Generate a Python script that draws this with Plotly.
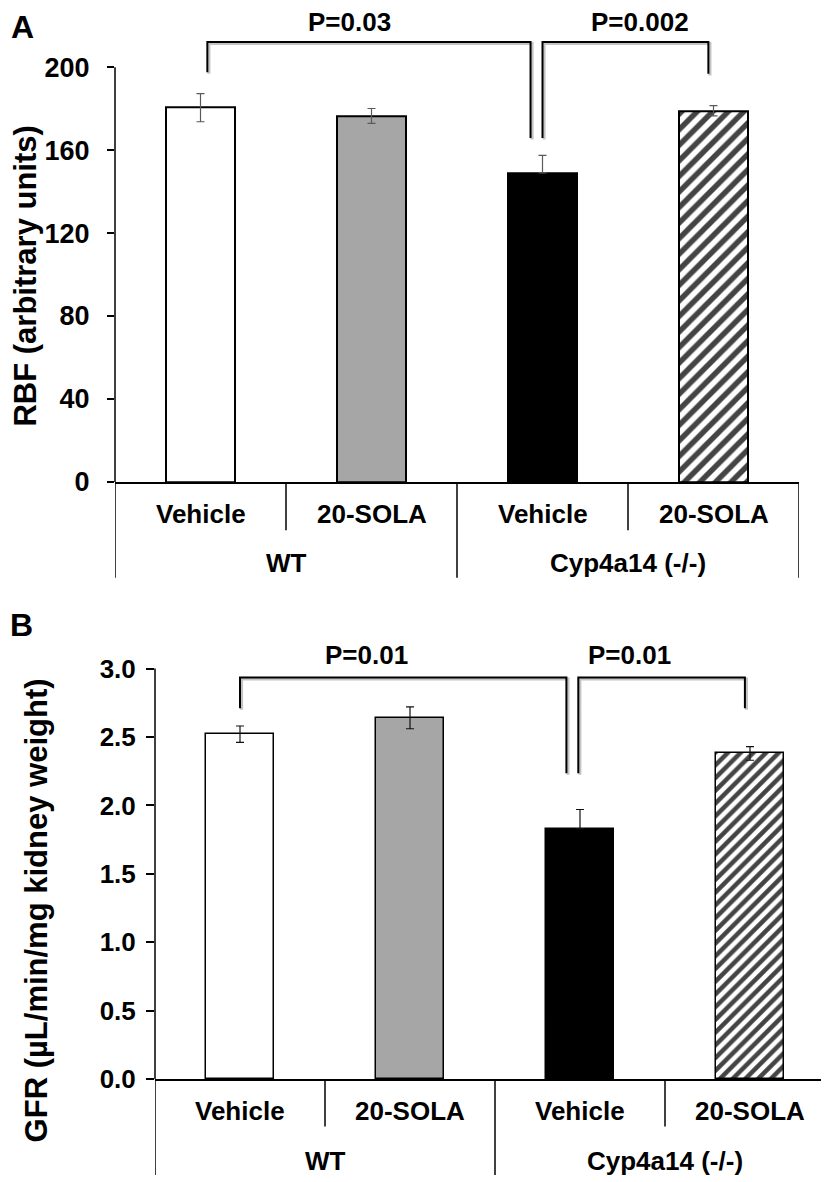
import plotly.graph_objects as go

# ---------------- data ----------------
treatments = ["Vehicle", "20-SOLA", "Vehicle", "20-SOLA"]
groups = ["WT", "Cyp4a14 (-/-)"]
group_of = [0, 0, 1, 1]

rbf_mean = [180.5, 176.5, 149.0, 179.0]
rbf_err = [6.8, 3.6, 8.5, 2.5]
gfr_mean = [2.52, 2.64, 1.83, 2.38]
gfr_err = [0.06, 0.08, 0.14, 0.05]

rbf_ticks = [0, 40, 80, 120, 160, 200]
gfr_ticks = [0.0, 0.5, 1.0, 1.5, 2.0, 2.5, 3.0]

fills = ["white", "#a6a6a6", "black", "white"]
patterns = ["", "", "", "/"]

# significance brackets: (bar_a, bar_b, y_top, y_end_a, y_end_b, label, label_x)
rbf_brackets = [(0.04, 1.93, 212.2, 197.6, 165.9, "P=0.03", 0.874),
                (2.00, 2.97, 212.2, 165.9, 196.8, "P=0.002", 2.57)]
gfr_brackets = [(0.00, 1.92, 2.934, 2.71, 2.235, "P=0.01", 0.747),
                (1.99, 2.97, 2.934, 2.235, 2.71, "P=0.01", 2.294)]
rbf_label_y = 222
gfr_label_y = 3.10

# ---------------- layout geometry ----------------
W, H = 829, 1182
FONT = "Liberation Sans, Arial, Helvetica, sans-serif"


def fx(px):
    return px / W


def fy(py):
    return 1 - py / H


panels = [
    dict(name="A", xa="x", ya="y", x0=107, x1=791, base=480, ppu=2.1, ymax=228.0,
         mean=rbf_mean, err=rbf_err, ticks=rbf_ticks, tickfmt="d", tickfs=27,
         standoff=12, ticklen=7, errcolor="#5a5a5a", barline=2.0, hatch=11,
         brackets=rbf_brackets, plabel_y=rbf_label_y, ylabel="RBF (arbitrary units)",
         ylabel_x=18, ylabel_y=272, ylabel_fs=31, letter_xy=(14, 19),
         treat_y=513, group_y=562, inner_end=529, outer_end=577),
    dict(name="B", xa="x2", ya="y2", x0=147, x1=827, base=1085, ppu=138.67, ymax=3.5,
         mean=gfr_mean, err=gfr_err, ticks=gfr_ticks, tickfmt=".1f", tickfs=26,
         standoff=5, ticklen=8, errcolor="#111111", barline=1.5, hatch=9,
         brackets=gfr_brackets, plabel_y=gfr_label_y,
         ylabel="GFR (µL/min/mg kidney weight)", ylabel_fs=31,
         ylabel_x=28, ylabel_y=914, letter_xy=(13, 625),
         treat_y=1117, group_y=1168, inner_end=1133, outer_end=1182),
]

fig = go.Figure()
shapes = []
annotations = []

for p in panels:
    xs = list(range(len(p["mean"])))
    minus = [0 if fills[i] == "black" else p["err"][i] for i in xs]
    fig.add_trace(go.Bar(
        x=xs, y=p["mean"], width=0.4, xaxis=p["xa"], yaxis=p["ya"],
        marker=dict(color=fills, line=dict(color="black", width=p["barline"]),
                    pattern=dict(shape=patterns, fgcolor="black", bgcolor="white",
                                 fgopacity=1, size=p["hatch"], solidity=0.5)),
        error_y=dict(type="data", array=p["err"], arrayminus=minus, symmetric=False,
                     color=p["errcolor"], thickness=1.2, width=4),
        showlegend=False, hoverinfo="skip",
    ))
    dom_x = [fx(p["x0"]), fx(p["x1"])]
    top_px = p["base"] - p["ymax"] * p["ppu"]
    dom_y = [fy(p["base"]), fy(top_px)]
    xkey = "xaxis" if p["xa"] == "x" else "xaxis2"
    ykey = "yaxis" if p["ya"] == "y" else "yaxis2"
    fig.update_layout(**{
        xkey: dict(domain=dom_x, range=[-0.5, 3.5], anchor=p["ya"], showgrid=False,
                   zeroline=False, showticklabels=False, ticks="",
                   showline=True, linecolor="black", linewidth=1.5, fixedrange=True),
        ykey: dict(domain=dom_y, range=[0, p["ymax"]], anchor=p["xa"], showgrid=False,
                   zeroline=False, showline=False, ticks="outside", ticklen=p["ticklen"],
                   tickwidth=1.5, tickcolor="black", tickvals=p["ticks"],
                   tickformat=p["tickfmt"], ticklabelstandoff=p["standoff"],
                   tickfont=dict(family=FONT, size=p["tickfs"], color="black",
                                 weight="bold"), fixedrange=True),
    })
    # y axis line (from 0 to top tick only)
    shapes.append(dict(type="line", xref=f"{p['xa']} domain", yref=p["ya"],
                       x0=0, x1=0, y0=0, y1=max(p["ticks"]),
                       line=dict(color="black", width=1.5)))
    # category divider lines below axis
    n = len(xs)
    for k in range(n + 1):
        xpos = k - 0.5
        if k in (0, n) or group_of[k - 1] != group_of[k]:
            end = p["outer_end"]
        else:
            end = p["inner_end"]
        shapes.append(dict(type="line", xref=p["xa"], yref="paper",
                           x0=xpos, x1=xpos, y0=fy(p["base"]), y1=fy(end),
                           line=dict(color="black", width=1.5)))
    # treatment labels
    for i, t in enumerate(treatments):
        annotations.append(dict(x=i, y=fy(p["treat_y"]), xref=p["xa"], yref="paper",
                                text=t, showarrow=False, xanchor="center", yanchor="middle",
                                font=dict(family=FONT, size=26, color="black", weight="bold")))
    # group labels
    for g, gname in enumerate(groups):
        members = [i for i in xs if group_of[i] == g]
        cx = sum(members) / len(members)
        annotations.append(dict(x=cx, y=fy(p["group_y"]), xref=p["xa"], yref="paper",
                                text=gname, showarrow=False, xanchor="center", yanchor="middle",
                                font=dict(family=FONT, size=26, color="black", weight="bold")))
    # brackets (shadow + line)
    ppc = (p["x1"] - p["x0"]) / 4.0
    for (a, b, ytop, ya_end, yb_end, lab, lx) in p["brackets"]:
        for dxp, col, wdt in ((1.6, "#c4c4c4", 3), (0, "black", 2)):
            dx = dxp / ppc
            dy = dxp / p["ppu"]
            path = (f"M {a+dx},{ya_end-dy} L {a+dx},{ytop-dy} "
                    f"L {b+dx},{ytop-dy} L {b+dx},{yb_end-dy}")
            shapes.append(dict(type="path", xref=p["xa"], yref=p["ya"], path=path,
                               line=dict(color=col, width=wdt)))
        annotations.append(dict(x=lx, y=p["plabel_y"], xref=p["xa"], yref=p["ya"],
                                text=lab, showarrow=False, xanchor="center", yanchor="middle",
                                font=dict(family=FONT, size=26, color="black", weight="bold")))
    # y title
    annotations.append(dict(x=fx(p["ylabel_x"]), y=fy(p["ylabel_y"]), xref="paper", yref="paper",
                            text=p["ylabel"], textangle=-90, showarrow=False,
                            xanchor="center", yanchor="middle",
                            font=dict(family=FONT, size=p["ylabel_fs"], color="black",
                                      weight="bold")))
    # panel letter
    annotations.append(dict(x=fx(p["letter_xy"][0]), y=fy(p["letter_xy"][1]),
                            xref="paper", yref="paper", text=p["name"], showarrow=False,
                            xanchor="center", yanchor="middle",
                            font=dict(family=FONT, size=32, color="black", weight="bold")))

fig.update_layout(
    width=W, height=H, margin=dict(l=0, r=0, t=0, b=0),
    paper_bgcolor="white", plot_bgcolor="white",
    shapes=shapes, annotations=annotations, bargap=0,
)

fig.write_html("out.html")
